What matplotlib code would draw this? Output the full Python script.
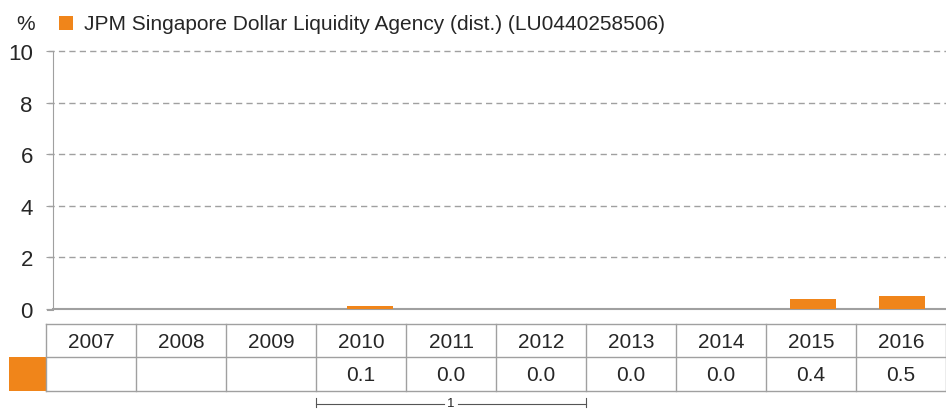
import matplotlib
matplotlib.use('Agg')
import matplotlib.pyplot as plt
from matplotlib.lines import Line2D
from matplotlib.patches import Rectangle

# Data
years = ['2007', '2008', '2009', '2010', '2011', '2012', '2013', '2014', '2015', '2016']
returns = [None, None, None, 0.1, 0.0, 0.0, 0.0, 0.0, 0.4, 0.5]
series_name = 'JPM Singapore Dollar Liquidity Agency (dist.) (LU0440258506)'
y_ticks = [0, 2, 4, 6, 8, 10]
bracket_label = '1'

orange = '#F0851A'
grey = '#A0A0A0'
text_col = '#262626'
plt.rcParams['font.family'] = ['Liberation Sans', 'DejaVu Sans']

W, H = 946, 410
fig = plt.figure(figsize=(W / 100, H / 100), dpi=100)

# Main bar axes (pixel layout: x 53..946, y 52..310)
ax = fig.add_axes([53 / W, 1 - 310 / H, (W - 53) / W, (310 - 52) / H])
xs = list(range(len(years)))
heights = [v if v is not None else 0 for v in returns]
ax.bar(xs, heights, width=0.52, color=orange, zorder=3)
ax.set_xlim(-0.58, 9.5)
ax.set_ylim(0, 10)
ax.set_yticks(y_ticks)
ax.set_yticklabels([str(t) for t in y_ticks], fontsize=16, color=text_col)
ax.tick_params(axis='y', length=5, color=grey, pad=9.5)
ax.set_xticks([])
for t in y_ticks[1:]:
    ax.axhline(t, color=grey, lw=1, ls=(0, (4.5, 3)), zorder=1, clip_on=False,
               xmin=-5 / (W - 53), xmax=1)
for s in ['top', 'right']:
    ax.spines[s].set_visible(False)
ax.spines['left'].set_color(grey)
ax.spines['bottom'].set_color(grey)
ax.spines['bottom'].set_linewidth(1.5)

# Overlay in pixel coords for legend and table
ov = fig.add_axes([0, 0, 1, 1])
ov.set_xlim(0, W)
ov.set_ylim(H, 0)
ov.axis('off')
ov.patch.set_alpha(0)

# Bottom axis extension to the left
ov.add_line(Line2D([48, 53], [310.5, 310.5], color=grey, lw=1.5))

# Legend
ov.text(26, 25, '%', fontsize=15, color=text_col, ha='center', va='center')
ov.add_patch(Rectangle((59, 17), 14, 14, color=orange, lw=0))
ov.text(84, 24.5, series_name, fontsize=15, color=text_col, va='center')

# Table
col_left = 46
col_w = 90
top, mid, bot = 325, 358, 392
ov.add_line(Line2D([col_left, W], [top, top], color=grey, lw=1))
ov.add_line(Line2D([col_left, W], [mid, mid], color=grey, lw=1))
ov.add_line(Line2D([col_left, W], [bot, bot], color=grey, lw=1))
for i in range(len(years) + 1):
    x = col_left + i * col_w
    ov.add_line(Line2D([x, x], [top, bot], color=grey, lw=1))
ov.add_patch(Rectangle((9, mid), col_left - 9, bot - mid, color=orange, lw=0))
for i, (yr, v) in enumerate(zip(years, returns)):
    cx = col_left + (i + 0.5) * col_w
    ov.text(cx, (top + mid) / 2 + 1, yr, fontsize=15, color=text_col,
            ha='center', va='center')
    if v is not None:
        ov.text(cx, (mid + bot) / 2 + 1, f'{v:.1f}', fontsize=15,
                color=text_col, ha='center', va='center')

# Bracket under 2010-2012
bx0 = col_left + 3 * col_w
bx1 = col_left + 6 * col_w
by = 405
cx = (bx0 + bx1) / 2
ov.add_line(Line2D([bx0, cx - 7], [by, by], color='#555555', lw=0.8))
ov.add_line(Line2D([cx + 7, bx1], [by, by], color='#555555', lw=0.8))
ov.add_line(Line2D([bx0, bx0], [by - 6, by + 3], color='#555555', lw=0.8))
ov.add_line(Line2D([bx1, bx1], [by - 6, by + 3], color='#555555', lw=0.8))
ov.text(cx, by - 0.5, bracket_label, fontsize=9.5, color=text_col,
        ha='center', va='center')

fig.savefig('out.png', dpi=100)
